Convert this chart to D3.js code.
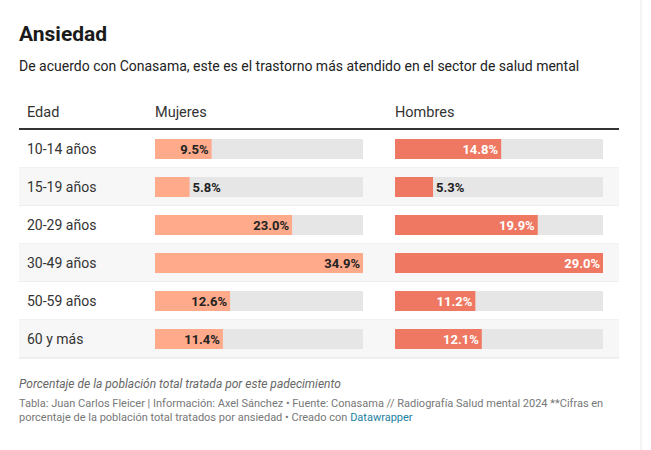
<!DOCTYPE html>
<html><head><meta charset="utf-8">
<script src="https://cdn.jsdelivr.net/npm/d3@7"></script>
<style>body{margin:0;background:#fff;font-family:Roboto,sans-serif}</style>
</head><body>
<script>
var edades = ["10-14 años", "15-19 años", "20-29 años", "30-49 años", "50-59 años", "60 y más"];
var mujeres = [9.5, 5.8, 23.0, 34.9, 12.6, 11.4];
var hombres = [14.8, 5.3, 19.9, 29.0, 11.2, 12.1];

var width = 651, height = 450;
var svg = d3.select("body").append("svg").attr("width", width).attr("height", height);

svg.append("line").attr("x1", 641).attr("x2", 641).attr("y1", 0).attr("y2", height)
  .attr("stroke", "#e8e8e8");

svg.append("text").attr("x", 19).attr("y", 41).text("Ansiedad")
  .attr("font-size", 21).attr("font-weight", 700).attr("fill", "#1a1a1a");
svg.append("text").attr("x", 19).attr("y", 71)
  .text("De acuerdo con Conasama, este es el trastorno más atendido en el sector de salud mental")
  .attr("font-size", 14).attr("fill", "#222");

// header
[["Edad", 27], ["Mujeres", 155], ["Hombres", 395]].forEach(h => {
  svg.append("text").attr("x", h[1]).attr("y", 117).text(h[0])
    .attr("font-size", 14.5).attr("fill", "#333");
});

var y = d3.scaleBand().domain(edades).range([130, 358]);
var xm = d3.scaleLinear().domain([0, d3.max(mujeres)]).range([155, 363]);
var xh = d3.scaleLinear().domain([0, d3.max(hombres)]).range([395, 603]);

var rows = svg.selectAll(".row").data(edades).enter().append("g")
  .attr("transform", d => `translate(0,${y(d)})`);
rows.append("rect").attr("x", 19).attr("width", 600).attr("height", y.bandwidth())
  .attr("fill", (d, i) => i % 2 ? "#f7f7f7" : "#fff");
rows.append("line").attr("x1", 19).attr("x2", 619).attr("y1", y.bandwidth()).attr("y2", y.bandwidth())
  .attr("stroke", "#e2e2e2");
rows.append("text").attr("x", 27).attr("y", y.bandwidth() / 2 + 5).text(d => d)
  .attr("font-size", 14).attr("fill", "#333");

function column(vals, x, color, inColor) {
  var bh = 20;
  rows.append("rect").attr("x", x.range()[0]).attr("width", x.range()[1] - x.range()[0])
    .attr("y", (y.bandwidth() - bh) / 2).attr("height", bh).attr("fill", "#e6e6e6");
  rows.append("rect").attr("x", x.range()[0]).attr("width", (d, i) => x(vals[i]) - x(0))
    .attr("y", (y.bandwidth() - bh) / 2).attr("height", bh).attr("fill", color);
  rows.append("text")
    .each(function (d, i) {
      var inside = x(vals[i]) - x(0) > 50;
      d3.select(this)
        .attr("x", inside ? x(vals[i]) - 3 : x(vals[i]) + 3)
        .attr("text-anchor", inside ? "end" : "start")
        .attr("fill", inside ? inColor : "#222");
    })
    .attr("y", y.bandwidth() / 2 + 5)
    .text((d, i) => vals[i].toFixed(1) + "%")
    .attr("font-size", 13).attr("font-weight", 700);
}
column(mujeres, xm, "#ffaa8b", "#222");
column(hombres, xh, "#ef7862", "#fff");

svg.append("line").attr("x1", 19).attr("x2", 619).attr("y1", 129).attr("y2", 129)
  .attr("stroke", "#333").attr("stroke-width", 2);

svg.append("text").attr("x", 19).attr("y", 388)
  .text("Porcentaje de la población total tratada por este padecimiento")
  .attr("font-size", 12).attr("font-style", "italic").attr("fill", "#666");
svg.append("text").attr("x", 19).attr("y", 407)
  .text("Tabla: Juan Carlos Fleicer | Información: Axel Sánchez • Fuente: Conasama // Radiografía Salud mental 2024 **Cifras en")
  .attr("font-size", 11).attr("fill", "#777");
var t = svg.append("text").attr("x", 19).attr("y", 421).attr("font-size", 11).attr("fill", "#777");
t.append("tspan").text("porcentaje de la población total tratados por ansiedad • Creado con ");
t.append("tspan").text("Datawrapper").attr("fill", "#1d81a2");
</script>
</body></html>
